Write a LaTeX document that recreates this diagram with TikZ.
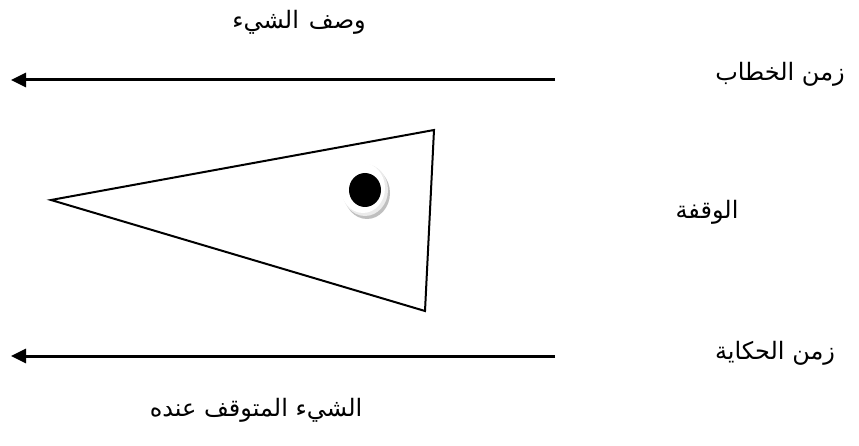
\documentclass[tikz,border=0pt]{standalone}
\usepackage{fontspec}
\newfontfamily\arabicfont[Script=Arabic]{DejaVu Sans}
\TeXXeTstate=1
\usetikzlibrary{arrows.meta}
\begin{document}
\begin{tikzpicture}[x=1pt,y=-1pt,
  lbl/.style={font=\arabicfont\fontsize{24}{28}\selectfont, inner sep=0pt},
  timeline/.style={line width=3pt, -{Triangle[length=15pt,width=14pt]}}]
\useasboundingbox (0,0) rectangle (859,446);
% labels
\node[lbl] (desc) at (299,22) {\beginR وصف\hspace{10pt}الشيء\endR};
\node[lbl] (disc) at (780,74) {\beginR زمن الخطاب\endR};
\node[lbl] (pause) at (707,212) {\beginR الوقفة\endR};
\node[lbl] (story) at (775,353) {\beginR زمن الحكاية\endR};
\node[lbl] (obj) at (256,410) {\beginR الشيء المتوقف عنده\endR};
% arrows
\coordinate (t1) at (555,80);
\coordinate (t0) at (11,80);
\coordinate (b1) at (555,356);
\coordinate (b0) at (11,356);
\draw[timeline] (t1) -- (t0);
\draw[timeline] (b1) -- (b0);
% triangle
\coordinate (tl) at (51,200);
\coordinate (tt) at (434,130);
\coordinate (tb) at (425,311);
\draw[line width=2pt, line join=miter] (tl) -- (tt) -- (tb) -- cycle;
% dot with shadow
\fill[black!25] (367,193) ellipse [x radius=23, y radius=26];
\fill[black!8] (365,190) ellipse [x radius=23, y radius=26];
\fill[white] (363,188) ellipse [x radius=22, y radius=25];
\fill[black] (365,190) ellipse [x radius=16, y radius=17];
\end{tikzpicture}
\end{document}
